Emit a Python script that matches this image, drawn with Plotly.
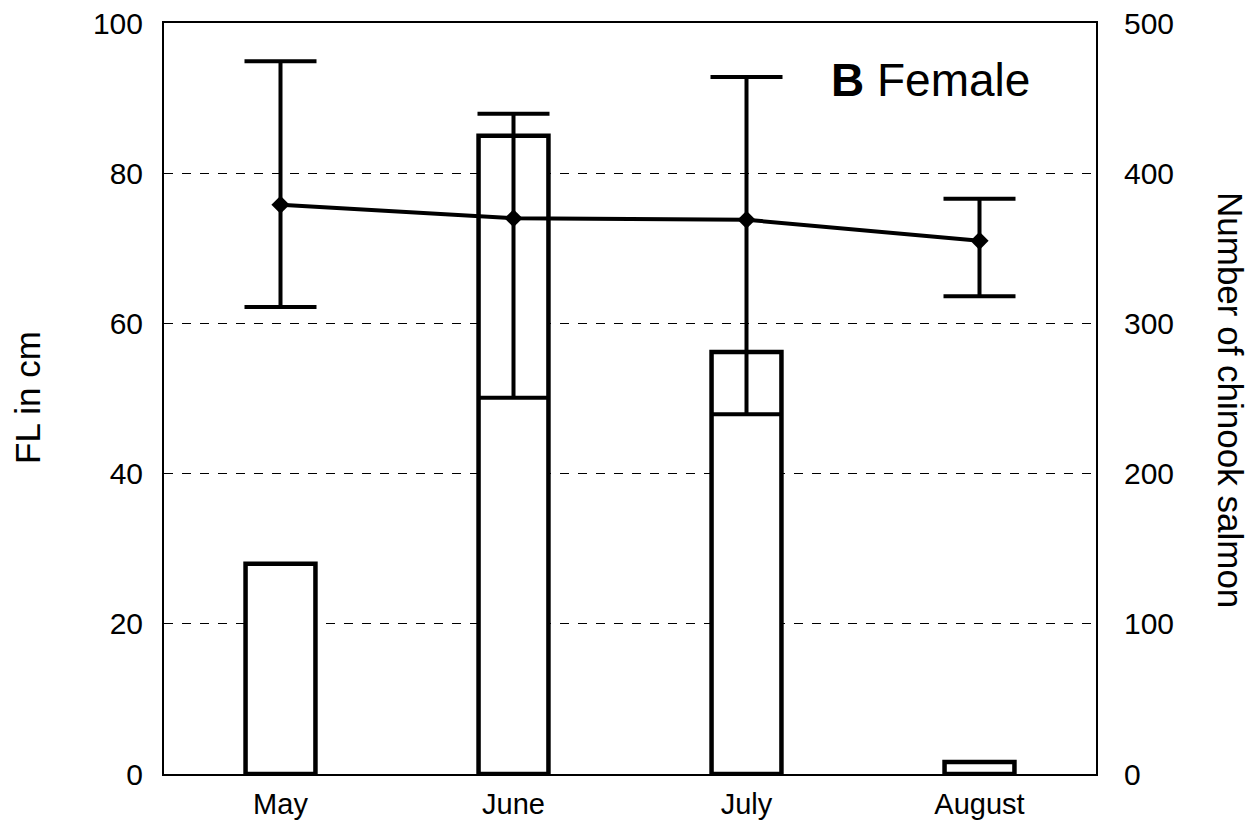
import plotly.graph_objects as go

months = ["May", "June", "July", "August"]
counts = [140, 425, 281, 8]
fl_mean = [75.8, 74.0, 73.8, 71.0]
fl_upper = [94.9, 87.9, 92.8, 76.6]
fl_lower = [62.2, 50.1, 47.9, 63.6]

err_plus = [u - m for u, m in zip(fl_upper, fl_mean)]
err_minus = [m - l for m, l in zip(fl_mean, fl_lower)]

FONT = "Liberation Sans, Arial, sans-serif"

# page offset (body margin) compensation
OFF = 8
W, H = 1257 - 2 * OFF, 828 - 2 * OFF
L, T = 164 - OFF, 23 - OFF
PW, PH = 932, 751
R = W - L - PW
B = H - T - PH

fig = go.Figure()
fig.add_trace(go.Bar(
    x=months, y=counts, yaxis="y", width=0.3,
    marker=dict(color="white", line=dict(color="black", width=4.5)),
    showlegend=False,
))
fig.add_trace(go.Scatter(
    x=months, y=fl_mean, yaxis="y2", mode="lines+markers",
    line=dict(color="black", width=4),
    marker=dict(symbol="diamond", size=14, color="black"),
    error_y=dict(type="data", symmetric=False, array=err_plus, arrayminus=err_minus,
                 color="black", thickness=4, width=36),
    showlegend=False,
))


def px(x, y):
    return (x - 164) / PW, 1 - (y - 23) / PH


a1 = px(28, 398)
a2 = px(1231, 400)
a3 = px(930, 80)

fig.update_layout(
    width=W, height=H,
    margin=dict(l=L, r=R, t=T, b=B, autoexpand=False),
    paper_bgcolor="white", plot_bgcolor="white",
    font=dict(family=FONT, size=30, color="black"),
    xaxis=dict(showline=True, linecolor="black", linewidth=2, mirror=True,
               automargin=False, ticks="", ticklabelstandoff=3,
               tickfont=dict(size=29)),
    yaxis=dict(side="right", range=[0, 500], dtick=100,
               showline=True, linecolor="black", linewidth=2, mirror=True,
               showgrid=True, gridcolor="black", griddash="dash", gridwidth=1,
               zeroline=False, ticks="", ticklabelstandoff=20,
               automargin=False, ticklabeloverflow="allow"),
    yaxis2=dict(side="left", overlaying="y", range=[0, 100], dtick=20,
                showgrid=False, zeroline=False, showline=False,
                ticks="", ticklabelstandoff=20,
                automargin=False, ticklabeloverflow="allow"),
    annotations=[
        dict(text="FL in cm", x=a1[0], y=a1[1], xref="paper", yref="paper",
             xanchor="center", yanchor="middle",
             showarrow=False, textangle=-90, font=dict(size=35)),
        dict(text="Number of chinook salmon", x=a2[0], y=a2[1], xref="paper", yref="paper",
             xanchor="center", yanchor="middle",
             showarrow=False, textangle=90, font=dict(size=35)),
        dict(text="<b>B</b> Female", x=a3[0], y=a3[1], xref="paper", yref="paper",
             xanchor="center", yanchor="middle",
             showarrow=False, font=dict(size=46)),
    ],
)

fig.write_html("out.html")
